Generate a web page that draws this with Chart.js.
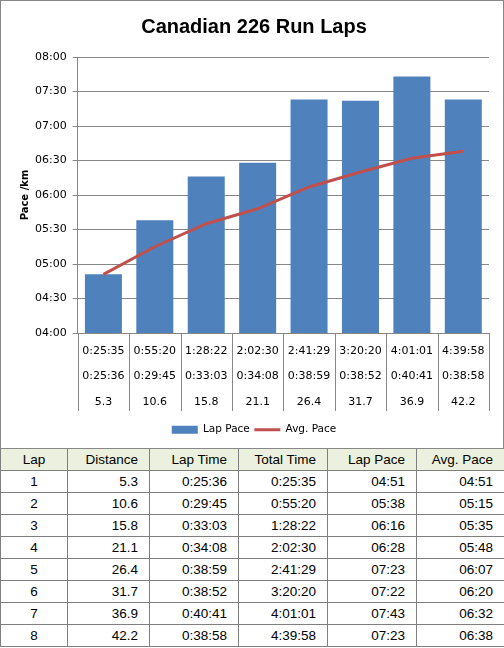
<!DOCTYPE html>
<html>
<head>
<meta charset="utf-8">
<script src="https://cdn.jsdelivr.net/npm/chart.js@4.4.0/dist/chart.umd.min.js"></script>
<style>
  body { margin: 0; background: #fff; }
  #box { position: absolute; left: 0; top: 0; width: 504px; height: 449px; box-sizing: border-box; border: 1px solid #878787; }
  #box canvas { display: block; }
  #laps { position: absolute; left: 0; top: 449px; width: 504px; border-collapse: collapse; table-layout: fixed;
          font: 13.5px "Liberation Sans", sans-serif; color: #000; }
  #laps td, #laps th { border: 1px solid #7f7f7f; height: 21px; padding: 0 11px 0 0; text-align: right; font-weight: normal; }
  #laps th { background: #ebf1de; }
  #laps tr:first-child th { border-top: none; }
  #laps .lap { text-align: center; padding: 0; }
</style>
</head>
<body>
<div id="box"><canvas id="lapsChart" width="502" height="447"></canvas></div>
<table id="laps">
  <colgroup><col style="width:67px"><col style="width:82px"><col style="width:89px"><col style="width:89px"><col style="width:89px"><col style="width:88px"></colgroup>
  <thead><tr><th class="lap">Lap</th><th>Distance</th><th>Lap Time</th><th>Total Time</th><th>Lap Pace</th><th>Avg. Pace</th></tr></thead>
  <tbody id="lapRows"></tbody>
</table>
<script>
const laps = [1, 2, 3, 4, 5, 6, 7, 8];
const distances = ["5.3", "10.6", "15.8", "21.1", "26.4", "31.7", "36.9", "42.2"];
const lapTimes = ["0:25:36", "0:29:45", "0:33:03", "0:34:08", "0:38:59", "0:38:52", "0:40:41", "0:38:58"];
const totalTimes = ["0:25:35", "0:55:20", "1:28:22", "2:02:30", "2:41:29", "3:20:20", "4:01:01", "4:39:58"];
const lapPace = ["04:51", "05:38", "06:16", "06:28", "07:23", "07:22", "07:43", "07:23"];
const avgPace = ["04:51", "05:15", "05:35", "05:48", "06:07", "06:20", "06:32", "06:38"];
const paceMin = "04:00";
const paceMax = "08:00";
const paceStep = 30;

const gridColor = "#878787";
const tickFont = { family: "DejaVu Sans", size: 11 };

// "mm:ss" <-> seconds
const toSec = s => { const [m, sec] = s.split(":").map(Number); return m * 60 + sec; };
const toPace = v => String(Math.floor(v / 60)).padStart(2, "0") + ":" + String(v % 60).padStart(2, "0");

document.getElementById("lapRows").innerHTML = laps.map((lap, i) => `
  <tr>
    <td class="lap">${lap}</td>
    <td>${distances[i]}</td>
    <td>${lapTimes[i]}</td>
    <td>${totalTimes[i]}</td>
    <td>${lapPace[i]}</td>
    <td>${avgPace[i]}</td>
  </tr>`).join("");

// vertical rules between the category labels, like the excel data table
const labelRules = {
  id: "labelRules",
  afterDraw(chart) {
    const x = chart.scales.x;
    const ctx = chart.ctx;
    const step = x.width / x.ticks.length;
    ctx.save();
    ctx.strokeStyle = gridColor;
    ctx.lineWidth = 1;
    ctx.beginPath();
    for (let i = 0; i <= x.ticks.length; i++) {
      const px = Math.round(x.left + i * step) + 0.5;
      ctx.moveTo(px, x.top);
      ctx.lineTo(px, x.top + 78);
    }
    ctx.stroke();
    ctx.restore();
  }
};

new Chart(document.getElementById("lapsChart"), {
  type: "bar",
  data: {
    labels: laps.map((l, i) => [totalTimes[i], lapTimes[i], distances[i]]),
    datasets: [{
      type: "bar",
      label: "Lap Pace",
      data: lapPace.map(toSec),
      backgroundColor: "#4f81bd",
      borderWidth: 0,
      barPercentage: 0.72,
      categoryPercentage: 1,
      pointStyle: "rect",
      order: 1
    }, {
      type: "line",
      label: "Avg. Pace",
      data: avgPace.map(toSec),
      borderColor: "#c0504d",
      backgroundColor: "#c0504d",
      borderWidth: 3,
      pointRadius: 0,
      tension: 0,
      pointStyle: "line",
      order: 0
    }]
  },
  options: {
    responsive: false,
    animation: false,
    layout: { padding: { left: 18, right: 14, top: 0, bottom: 3 } },
    plugins: {
      title: {
        display: true,
        text: "Canadian 226 Run Laps",
        color: "#000",
        font: { family: "Liberation Sans", size: 20, weight: "bold" },
        padding: { top: 14, bottom: 18 }
      },
      legend: {
        position: "bottom",
        labels: {
          color: "#000",
          font: { family: "DejaVu Sans", size: 10.5 },
          usePointStyle: true,
          pointStyleWidth: 26,
          boxHeight: 8,
          padding: 4.5,
          sort: (a, b) => a.datasetIndex - b.datasetIndex
        }
      },
      tooltip: { enabled: false }
    },
    scales: {
      x: {
        grid: { display: true, drawOnChartArea: false, drawTicks: false },
        border: { display: true, color: gridColor },
        ticks: {
          color: "#000",
          autoSkip: false,
          maxRotation: 0,
          padding: 5.25,
          font: { family: "DejaVu Sans", size: 11, lineHeight: 25.5 / 11 }
        }
      },
      y: {
        min: toSec(paceMin),
        max: toSec(paceMax),
        grid: { color: gridColor, tickLength: 5 },
        border: { display: true, color: gridColor },
        ticks: {
          stepSize: paceStep,
          color: "#000",
          padding: 6,
          font: tickFont,
          callback: v => toPace(v)
        },
        title: {
          display: true,
          text: "Pace /km",
          color: "#000",
          font: { family: "DejaVu Sans", size: 10, weight: "bold" },
          padding: { top: 0, bottom: -2 }
        }
      }
    }
  },
  plugins: [labelRules]
});
</script>
</body>
</html>
